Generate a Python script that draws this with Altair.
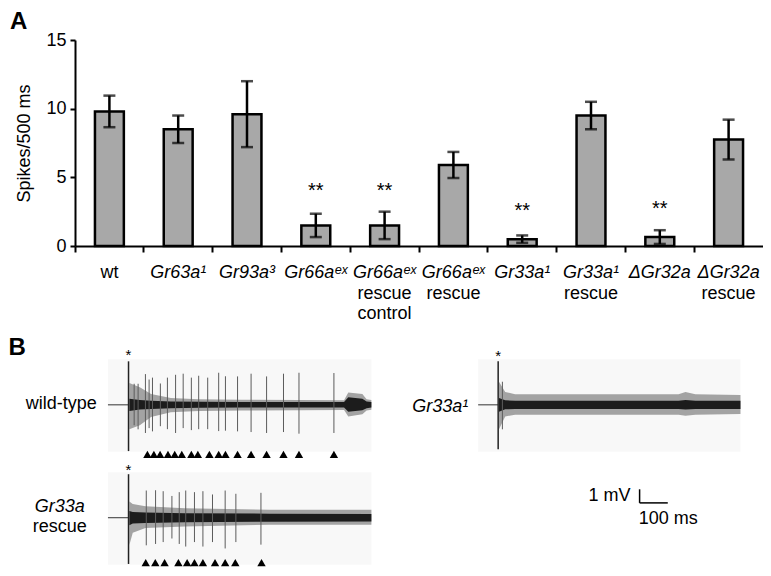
import altair as alt
import pandas as pd

FONT = "Liberation Sans, Arial, Helvetica, sans-serif"

# ---------------- Panel A data ----------------
categories = ["wt", "Gr63a1", "Gr93a3", "Gr66aex", "Gr66aex rescue control",
              "Gr66aex rescue", "Gr33a1", "Gr33a1 rescue", "dGr32a", "dGr32a rescue"]
genotype_labels = ["wt", "Gr63a¹", "Gr93a³", "Gr66aᵉˣ", "Gr66aᵉˣ", "Gr66aᵉˣ",
                   "Gr33a¹", "Gr33a¹", "ΔGr32a", "ΔGr32a"]
italic_flags = [False, True, True, True, True, True, True, True, True, True]
sub_line1 = ["", "", "", "", "rescue", "rescue", "", "rescue", "", "rescue"]
sub_line2 = ["", "", "", "", "control", "", "", "", "", ""]
spike_means = [9.8, 8.5, 9.6, 1.5, 1.5, 5.9, 0.5, 9.5, 0.65, 7.75]
spike_sem = [1.15, 1.0, 2.4, 0.85, 1.0, 0.95, 0.27, 1.0, 0.5, 1.45]
significance = ["", "", "", "**", "**", "", "**", "", "**", ""]
significance_y = [0, 0, 0, 3.54, 3.54, 0, 2.08, 0, 2.23, 0]
y_ticks = [0, 5, 10, 15]

dfA = pd.DataFrame({
    "cat": categories, "label": genotype_labels, "italic": italic_flags,
    "sub1": sub_line1, "sub2": sub_line2, "mean": spike_means, "sem": spike_sem,
    "sig": significance, "sig_y": significance_y,
})
dfA["lo"] = dfA["mean"] - dfA["sem"]
dfA["hi"] = dfA["mean"] + dfA["sem"]

# ---------------- Panel B data (ms, mV) ----------------
wt_spike_times = [20, 34, 60, 73, 85, 113, 138, 167, 194, 223, 249, 281, 320, 344, 387, 435, 490, 550, 605, 729]
wt_spike_peaks = [1.55, 1.55, 2.26, 1.86, 2.0, 1.57, 2.0, 2.21, 2.29, 2.0, 2.14, 2.0, 2.36, 2.1, 2.09, 2.29, 2.09, 2.29, 2.36, 2.34]
wt_spike_troughs = [-1.5, -1.8, -2.07, -1.71, -1.95, -1.57, -1.79, -2.07, -1.71, -1.86, -1.79, -1.79, -1.93, -1.9, -1.95, -2.0, -2.07, -2.0, -2.12, -2.07]
wt_marked = [67, 90, 112, 140, 164, 189, 223, 246, 287, 320, 344, 387, 435, 490, 550, 605, 729]

rescue_spike_times = [63, 96, 123, 154, 180, 203, 234, 264, 298, 343, 381, 470]
rescue_spike_peaks = [2.0, 2.02, 1.95, 1.6, 1.88, 2.0, 1.88, 1.95, 1.71, 2.0, 1.76, 1.83]
rescue_spike_troughs = [-2.03, -1.93, -1.79, -1.53, -1.93, -2.12, -1.79, -2.12, -1.79, -2.26, -1.79, -1.98]
rescue_marked = [61, 95, 128, 177, 208, 234, 264, 307, 343, 379, 472]

gr33_spike_times = [15]
gr33_spike_peaks = [1.7]
gr33_spike_troughs = [-1.8]

wt_env_t = [3, 40, 80, 150, 250, 400, 765, 780, 830, 845, 862]
wt_outer_hi = [1.6, 1.3, 0.8, 0.5, 0.42, 0.38, 0.33, 0.9, 0.8, 0.42, 0.36]
wt_outer_lo = [-1.8, -1.5, -0.9, -0.55, -0.45, -0.42, -0.38, -0.85, -0.7, -0.42, -0.36]
wt_inner_hi = [0.45, 0.35, 0.3, 0.25, 0.22, 0.2, 0.2, 0.55, 0.45, 0.25, 0.2]
wt_inner_lo = [-0.45, -0.35, -0.3, -0.25, -0.22, -0.2, -0.2, -0.5, -0.4, -0.25, -0.2]

rescue_env_t = [3, 15, 60, 200, 500, 862]
rescue_outer_hi = [1.2, 1.0, 0.85, 0.7, 0.58, 0.58]
rescue_outer_lo = [-2.0, -1.1, -0.75, -0.65, -0.52, -0.52]
rescue_inner_hi = [0.5, 0.42, 0.38, 0.33, 0.3, 0.28]
rescue_inner_lo = [-0.55, -0.42, -0.38, -0.33, -0.3, -0.28]

gr33_env_t = [3, 25, 60, 400, 640, 665, 700, 860]
gr33_outer_hi = [1.7, 0.95, 0.78, 0.78, 0.78, 0.95, 0.78, 0.72]
gr33_outer_lo = [-1.8, -0.85, -0.72, -0.72, -0.72, -0.8, -0.72, -0.68]
gr33_inner_hi = [0.5, 0.33, 0.3, 0.3, 0.3, 0.35, 0.3, 0.3]
gr33_inner_lo = [-0.5, -0.33, -0.3, -0.3, -0.3, -0.35, -0.3, -0.3]

trace_ids = ["wt", "rescue", "gr33a1"]
trace_start = [-73, -73, -71]
trace_end = [862, 862, 860]
artifact_peak = [3.2, 3.2, 3.2]
artifact_trough = [-3.4, -3.4, -3.26]

# layout of the traces inside panel B
X_OFF = {"wt": 0, "rescue": 0, "gr33a1": 1312}
Y_OFF = {"wt": 0, "rescue": -8.3, "gr33a1": 0}
TRI_LEVEL = {"wt": -3.64, "rescue": -3.3}
STAR_LEVEL = {"wt": 3.33, "rescue": 3.16, "gr33a1": 3.23}
BG_TOP, BG_BOTTOM = 3.35, -3.45
B_X_DOMAIN = [-190, 2252]
B_Y_DOMAIN = [-11.85, 4.4]

spike_sets = {"wt": (wt_spike_times, wt_spike_peaks, wt_spike_troughs),
              "rescue": (rescue_spike_times, rescue_spike_peaks, rescue_spike_troughs),
              "gr33a1": (gr33_spike_times, gr33_spike_peaks, gr33_spike_troughs)}
env_sets = {"wt": (wt_env_t, wt_outer_hi, wt_outer_lo, wt_inner_hi, wt_inner_lo),
            "rescue": (rescue_env_t, rescue_outer_hi, rescue_outer_lo, rescue_inner_hi, rescue_inner_lo),
            "gr33a1": (gr33_env_t, gr33_outer_hi, gr33_outer_lo, gr33_inner_hi, gr33_inner_lo)}
marked_sets = {"wt": wt_marked, "rescue": rescue_marked}

rows_sp, rows_env, rows_tri, rows_tr, rows_art, rows_star = [], [], [], [], [], []
for i, tr in enumerate(trace_ids):
    xo, yo = X_OFF[tr], Y_OFF[tr]
    for t, p, q in zip(*spike_sets[tr]):
        rows_sp.append({"trace": tr, "x": t + xo, "hi": p + yo, "lo": q + yo})
    for t, oh, ol, ih, il in zip(*env_sets[tr]):
        rows_env.append({"trace": tr, "x": t + xo, "ohi": oh + yo, "olo": ol + yo,
                         "ihi": ih + yo, "ilo": il + yo})
    for t in marked_sets.get(tr, []):
        rows_tri.append({"trace": tr, "x": t + xo, "y": TRI_LEVEL[tr] + yo})
    rows_tr.append({"trace": tr, "x0": trace_start[i] + xo, "x1": trace_end[i] + xo,
                    "xs": 0 + xo, "y": yo, "b0": BG_BOTTOM + yo, "b1": BG_TOP + yo})
    rows_art.append({"trace": tr, "x": xo, "hi": artifact_peak[i] + yo, "lo": artifact_trough[i] + yo})
    rows_star.append({"trace": tr, "x": xo, "y": STAR_LEVEL[tr] + yo, "t": "*"})

df_sp = pd.DataFrame(rows_sp)
df_env = pd.DataFrame(rows_env)
df_tri = pd.DataFrame(rows_tri)
df_tr = pd.DataFrame(rows_tr)
df_art = pd.DataFrame(rows_art)
df_star = pd.DataFrame(rows_star)

# scale bar: 1 mV, 100 ms
scalebar = pd.DataFrame({"x0": [1814, 1814], "x1": [1814, 1914],
                         "y0": [-6.21, -7.21], "y1": [-7.21, -7.21]})

b_texts = pd.DataFrame([
    {"text": "B", "x": -426, "y": 4.18, "style": "panel"},
    {"text": "wild-type", "x": -113, "y": -0.3, "style": "right"},
    {"text": "Gr33a¹", "x": 1206, "y": -0.55, "style": "right_it"},
    {"text": "Gr33a", "x": -244, "y": -7.9, "style": "center_it"},
    {"text": "rescue", "x": -244, "y": -9.38, "style": "center"},
    {"text": "1 mV", "x": 1782, "y": -7.07, "style": "right"},
    {"text": "100 ms", "x": 1916, "y": -8.74, "style": "center"},
])

# ---------------- Panel A chart ----------------
xA = alt.X("cat:N", sort=categories,
           scale=alt.Scale(type="band", domain=categories, paddingInner=0, paddingOuter=0),
           axis=alt.Axis(title=None, labels=False, bandPosition=0, tickSize=6, tickWidth=2,
                         tickColor="black", domainWidth=2, domainColor="black", grid=False))

def yA(field):
    return alt.Y(field, type="quantitative", scale=alt.Scale(domain=[0, 15], nice=False),
                 axis=alt.Axis(title="Spikes/500 ms", values=y_ticks, tickSize=5, tickWidth=2,
                               tickColor="black", domainWidth=2, domainColor="black", grid=False,
                               labelFont=FONT, labelFontSize=18, labelColor="black", labelPadding=4,
                               titleFont=FONT, titleFontSize=18, titleFontWeight="normal",
                               titleColor="black", titlePadding=12))

baseA = alt.Chart(dfA)
bars = baseA.mark_bar(width=alt.RelativeBandSize(0.42), fill="#a8a8a8", stroke="black",
                      strokeWidth=2.5).encode(x=xA, y=yA("mean"))
err = baseA.mark_rule(color="black", strokeWidth=2.5).encode(
    x=xA, y=yA("lo"), y2="hi:Q")
cap_lo = baseA.mark_tick(color="black", thickness=2.5, size=12).encode(x=xA, y=yA("lo"))
cap_hi = baseA.mark_tick(color="black", thickness=2.5, size=12).encode(x=xA, y=yA("hi"))
stars = baseA.transform_filter("datum.sig != ''").mark_text(
    font=FONT, fontSize=20, baseline="alphabetic", align="center", color="black").encode(
    x=xA, y=yA("sig_y"), text="sig:N")
lab_it = baseA.transform_filter("datum.italic").mark_text(
    font=FONT, fontSize=18, fontStyle="italic", baseline="alphabetic", align="center",
    dy=32, color="black").encode(x=xA, y=alt.datum(0), text="label:N")
lab_up = baseA.transform_filter("!datum.italic").mark_text(
    font=FONT, fontSize=18, baseline="alphabetic", align="center",
    dy=32, color="black").encode(x=xA, y=alt.datum(0), text="label:N")
sub1 = baseA.transform_filter("datum.sub1 != ''").mark_text(
    font=FONT, fontSize=18, baseline="alphabetic", align="center",
    dy=52.7, color="black").encode(x=xA, y=alt.datum(0), text="sub1:N")
sub2 = baseA.transform_filter("datum.sub2 != ''").mark_text(
    font=FONT, fontSize=18, baseline="alphabetic", align="center",
    dy=73, color="black").encode(x=xA, y=alt.datum(0), text="sub2:N")

panelA = alt.layer(bars, err, cap_lo, cap_hi, stars, lab_it, lab_up, sub1, sub2).properties(
    width=688, height=206,
    title=alt.TitleParams("A", anchor="start", frame="bounds", fontSize=24, fontWeight="bold",
                          font=FONT, color="black", offset=-3, dx=-6))

# ---------------- Panel B chart ----------------
def BX(f):
    return alt.X(f, type="quantitative",
                 scale=alt.Scale(domain=B_X_DOMAIN, nice=False, zero=False), axis=None)

def BY(f):
    return alt.Y(f, type="quantitative",
                 scale=alt.Scale(domain=B_Y_DOMAIN, nice=False, zero=False), axis=None)

bg = alt.Chart(df_tr).mark_rect(color="#f8f8f8").encode(
    x=BX("x0"), x2="x1", y=BY("b0"), y2="b1")
pre = alt.Chart(df_tr).mark_rule(color="#333333", strokeWidth=1).encode(
    x=BX("x0"), x2="xs", y=BY("y"))
outer = alt.Chart(df_env).mark_area(color="#a3a3a3").encode(
    x=BX("x"), y=BY("ohi"), y2="olo", detail="trace:N")
inner = alt.Chart(df_env).mark_area(color="#1c1c1c").encode(
    x=BX("x"), y=BY("ihi"), y2="ilo", detail="trace:N")
spk = alt.Chart(df_sp).mark_rule(color="#5c5c5c", strokeWidth=1).encode(
    x=BX("x"), y=BY("hi"), y2="lo")
art = alt.Chart(df_art).mark_rule(color="#222222", strokeWidth=1.5).encode(
    x=BX("x"), y=BY("hi"), y2="lo")
tri = alt.Chart(df_tri).mark_point(shape="triangle-up", filled=True, color="black",
                                   size=70, opacity=1).encode(x=BX("x"), y=BY("y"))
bstar = alt.Chart(df_star).mark_text(font=FONT, fontSize=15, baseline="alphabetic",
                                     align="center", color="black").encode(
    x=BX("x"), y=BY("y"), text="t:N")
bar_rules = alt.Chart(scalebar).mark_rule(color="black", strokeWidth=1.5).encode(
    x=BX("x0"), x2="x1", y=BY("y0"), y2="y1")

def tlayer(style, **kw):
    return alt.Chart(b_texts).transform_filter(f"datum.style == '{style}'").mark_text(
        font=FONT, color="black", **kw).encode(x=BX("x"), y=BY("y"), text="text:N")

t_panel = tlayer("panel", fontSize=24, fontWeight="bold", align="left", baseline="middle")
t_right = tlayer("right", fontSize=18, align="right", baseline="alphabetic")
t_right_it = tlayer("right_it", fontSize=18, fontStyle="italic", align="right", baseline="alphabetic")
t_center_it = tlayer("center_it", fontSize=18, fontStyle="italic", align="center", baseline="alphabetic")
t_center = tlayer("center", fontSize=18, align="center", baseline="alphabetic")

panelB = alt.layer(bg, pre, outer, inner, spk, art, tri, bstar, bar_rules,
                   t_panel, t_right, t_right_it, t_center_it, t_center).properties(
    width=688, height=221)

chart = alt.vconcat(panelA, panelB, spacing=12).properties(
    padding={"left": 0, "top": 2, "right": 0, "bottom": 0}
).configure(font=FONT).configure_view(stroke=None)

chart.save("out.html", embed_options={"renderer": "svg", "actions": False})
